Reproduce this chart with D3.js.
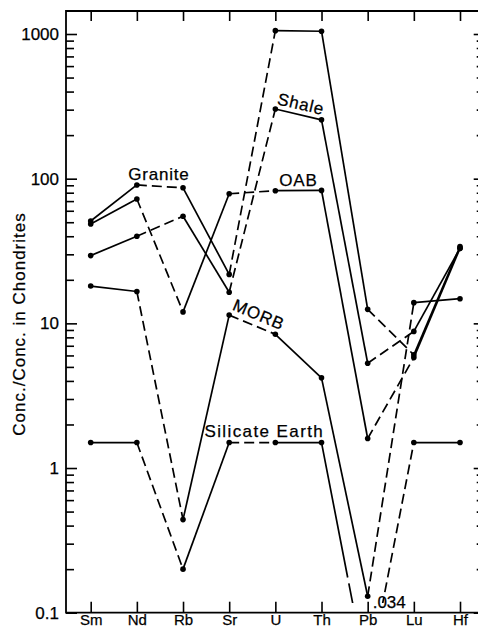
<!DOCTYPE html>
<html>
<head>
<meta charset="utf-8">
<script src="https://cdn.jsdelivr.net/npm/d3@7"></script>
<style>
  html, body { margin: 0; padding: 0; background: #fff; }
  svg { display: block; }
  text { font-family: "Liberation Sans", Arial, Helvetica, sans-serif; fill: #000; stroke: #000; stroke-width: 0.25px; }
</style>
</head>
<body>
<svg id="chart" width="478" height="629"></svg>
<script>
// Elements in plotting order and chondrite-normalised concentrations
const elements = ["Sm", "Nd", "Rb", "Sr", "U", "Th", "Pb", "Lu", "Hf"];
const granite       = [51, 90.5, 86.5, 21.8, 1055, 1045, 12.5, 6.05, 34];
const oab           = [48.6, 72.4, 12.0, 78.7, 82.6, 83, 1.6, 5.8, 33];
const shale         = [29.4, 40, 55, 16.4, 303, 255, 5.3, 8.8, 33];
const morb          = [18.1, 16.6, 0.44, 11.4, 8.4, 4.2, 0.13, 13.9, 14.8];
const silicateEarth = [1.5, 1.5, 0.2, 1.5, 1.5, 1.5, 0.034, 1.5, 1.5];
const seriesNames   = ["Granite", "OAB", "Shale", "MORB", "Silicate Earth"];
const yTickValues   = [0.1, 1, 10, 100, 1000];
const yTickLabels   = ["0.1", "1", "10", "100", "1000"];
const yAxisTitle    = "Conc./Conc. in Chondrites";
// segments that start at these elements are drawn dashed
const dashedFrom    = ["Nd", "Sr", "Pb"];

const seriesValues = [granite, oab, shale, morb, silicateEarth];
const series = seriesNames.map((name, i) => ({
  name,
  points: elements.map((e, j) => ({ el: e, v: seriesValues[i][j] }))
}));

const svg = d3.select("#chart");
const plotLeft = 66, plotRight = 484.7, plotTop = 11, plotBottom = 612.7;
const clipBottom = 603;

const x = d3.scalePoint().domain(elements).range([plotLeft, plotRight]).padding(0.535);
const y = d3.scaleLog().domain([0.1, 1000]).range([plotBottom, 34]);

const minorTicks = [];
[0.1, 1, 10, 100].forEach(d => { for (let k = 2; k <= 9; k++) minorTicks.push(d * k); });

// ---- axes (ticks point into the plot) ----
const fmt = d => yTickLabels[yTickValues.indexOf(d)];
const axisStyle = g => {
  g.select(".domain").remove();
  g.selectAll("line").attr("stroke", "#000").attr("stroke-width", 1.6);
};

svg.append("g").attr("transform", `translate(${plotLeft},0)`)
  .call(d3.axisLeft(y).tickValues(yTickValues).tickSize(-11).tickPadding(7).tickFormat(fmt))
  .call(axisStyle)
  .call(g => g.selectAll("text").attr("font-size", 17).attr("font-family", null));
svg.append("g").attr("transform", `translate(${plotLeft},0)`)
  .call(d3.axisLeft(y).tickValues(minorTicks).tickSize(-8).tickFormat(""))
  .call(axisStyle);
svg.append("g").attr("transform", `translate(${plotRight},0)`)
  .call(d3.axisRight(y).tickValues(yTickValues).tickSize(-11).tickFormat(""))
  .call(axisStyle);
svg.append("g").attr("transform", `translate(${plotRight},0)`)
  .call(d3.axisRight(y).tickValues(minorTicks).tickSize(-8).tickFormat(""))
  .call(axisStyle);
svg.append("g").attr("transform", `translate(0,${plotTop})`)
  .call(d3.axisBottom(x).tickSize(10).tickFormat(""))
  .call(axisStyle);
svg.append("g").attr("transform", `translate(0,${plotBottom})`)
  .call(d3.axisBottom(x).tickSize(-11).tickPadding(1.6))
  .call(axisStyle)
  .call(g => g.selectAll("text").attr("font-size", 15).attr("font-family", null));

// frame
svg.append("path")
  .attr("d", `M${plotRight},${plotTop}H${plotLeft}V${plotBottom}H${plotRight}V${plotTop}`)
  .attr("fill", "none").attr("stroke", "#000").attr("stroke-width", 1.8);

// axis title
svg.append("text")
  .attr("transform", `translate(25,324) rotate(-90)`)
  .attr("text-anchor", "middle")
  .attr("font-size", 17)
  .attr("letter-spacing", 1)
  .text(yAxisTitle);

// ---- data lines ----
svg.append("clipPath").attr("id", "plotClip")
  .append("rect").attr("x", plotLeft).attr("y", plotTop)
  .attr("width", plotRight - plotLeft).attr("height", clipBottom - plotTop);

const plot = svg.append("g").attr("clip-path", "url(#plotClip)");

series.forEach(s => {
  for (let i = 0; i < s.points.length - 1; i++) {
    const a = s.points[i], b = s.points[i + 1];
    const x0 = x(a.el), y0 = y(a.v), x1 = x(b.el), y1 = y(b.v);
    const len = Math.hypot(x1 - x0, y1 - y0);
    let dash = null;
    if (dashedFrom.includes(a.el)) {
      dash = "10,5";
    } else if (y1 > clipBottom) {
      // off-scale value: solid line that breaks up just before the edge
      const visible = len * (clipBottom - y0) / (y1 - y0);
      dash = `${visible - 26},6,${len}`;
    }
    plot.append("line")
      .attr("x1", x0).attr("y1", y0).attr("x2", x1).attr("y2", y1)
      .attr("stroke", "#000").attr("stroke-width", 1.7)
      .attr("stroke-dasharray", dash);
  }
  plot.selectAll(null).data(s.points).enter().append("circle")
    .attr("cx", d => x(d.el)).attr("cy", d => y(d.v)).attr("r", 2.8)
    .attr("fill", "#000");
});

// ---- series labels ----
const byName = Object.fromEntries(series.map(s => [s.name, s]));
const pt = (name, el) => {
  const p = byName[name].points.find(d => d.el === el);
  return [x(p.el), y(p.v)];
};
const labelFont = 17;

function segLabel(name, from, to, opts) {
  const [x0, y0] = pt(name, from), [x1, y1] = pt(name, to);
  const mx = (x0 + x1) / 2, my = (y0 + y1) / 2;
  const ang = opts.rotate ? Math.atan2(y1 - y0, x1 - x0) * 180 / Math.PI : 0;
  svg.append("text")
    .attr("transform", `translate(${mx},${my}) rotate(${ang})`)
    .attr("x", opts.dx || 0).attr("y", opts.dy)
    .attr("text-anchor", "middle")
    .attr("font-size", labelFont)
    .attr("letter-spacing", 0.8)
    .text(name);
}
segLabel("Granite", "Nd", "Rb", { dy: -6, dx: -1 });
segLabel("OAB", "U", "Th", { dy: -5 });
segLabel("Shale", "U", "Th", { rotate: true, dy: -5 });
segLabel("MORB", "Sr", "U", { rotate: true, dy: -6, dx: 2 });

{
  const [sx, sy] = pt("Silicate Earth", "Sr");
  const [tx] = pt("Silicate Earth", "Th");
  svg.append("text")
    .attr("x", (sx + tx) / 2 - 11).attr("y", sy - 6)
    .attr("text-anchor", "middle")
    .attr("font-size", labelFont)
    .attr("letter-spacing", 1.4)
    .text("Silicate Earth");
}

// value note for the off-scale Pb point
{
  const p = byName["Silicate Earth"].points.find(d => d.el === "Pb");
  svg.append("text")
    .attr("x", x("Pb") + 5).attr("y", plotBottom - 4.5)
    .attr("font-size", 17)
    .text(String(p.v).replace(/^0/, ""));
}
</script>
</body>
</html>
